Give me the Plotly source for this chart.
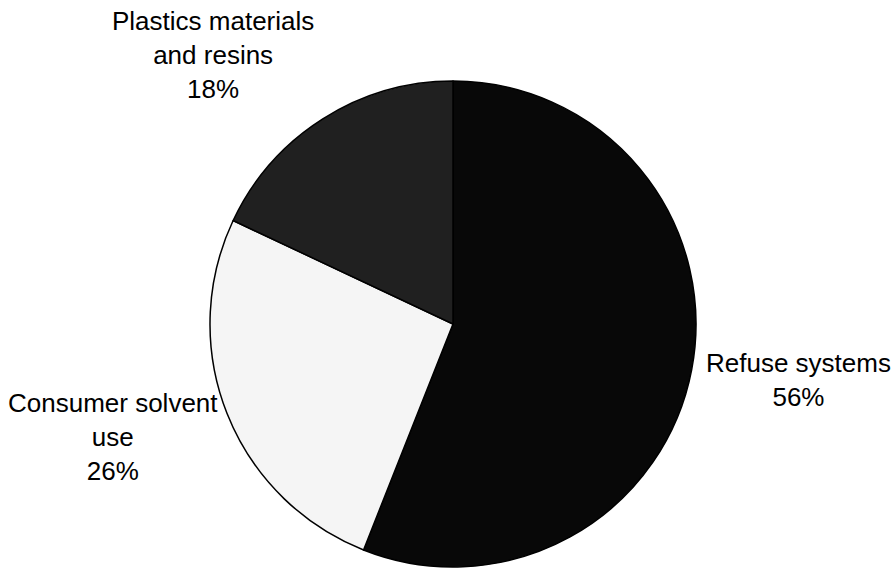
import plotly.graph_objects as go

categories = ["Refuse systems", "Consumer solvent use", "Plastics materials and resins"]
values = [56, 26, 18]
label_texts = ["Refuse systems<br>56%", "Consumer solvent<br>use<br>26%", "Plastics materials<br>and resins<br>18%"]
colors = ["#080808", "#f5f5f5", "#202020"]

W, H = 895, 568

fig = go.Figure(go.Pie(
    labels=categories,
    values=values,
    sort=False,
    direction="clockwise",
    rotation=0,
    textinfo="none",
    hoverinfo="label+percent",
    marker=dict(colors=colors, line=dict(color="#000000", width=1.5)),
    domain=dict(x=[209 / W, 697 / W], y=[1 - 567 / H, 1 - 81 / H]),
    showlegend=False,
))

label_pos = [(798, 380), (113, 437), (213, 55)]
for txt, (px, py) in zip(label_texts, label_pos):
    fig.add_annotation(
        x=px / W, y=1 - py / H, xref="paper", yref="paper",
        text=txt, showarrow=False, align="center",
        xanchor="center", yanchor="middle",
        font=dict(family="Liberation Sans, Arial", size=26, color="#000000"),
    )

fig.update_layout(
    width=W, height=H,
    margin=dict(l=0, r=0, t=0, b=0),
    paper_bgcolor="#ffffff",
    plot_bgcolor="#ffffff",
)

fig.write_html(
    "out.html",
    config={"displayModeBar": False},
    post_script="document.body.style.margin='0';document.body.style.overflow='hidden';",
)
